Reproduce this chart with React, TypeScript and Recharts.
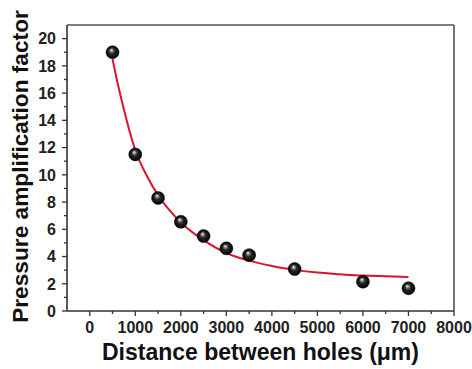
import React from 'react';
import { ComposedChart, Line, Scatter, XAxis, YAxis, ReferenceLine, Label } from 'recharts';

// Measured points
const distance = [500, 1000, 1500, 2000, 2500, 3000, 3500, 4500, 6000, 7000];
const factor = [19.0, 11.5, 8.3, 6.55, 5.5, 4.6, 4.1, 3.08, 2.15, 1.67];

// Fitted curve
const fitDistance = [500, 600, 750, 900, 1000, 1250, 1500, 1750, 2000, 2500, 3000, 3500, 4000, 4500, 5000, 5500, 6000, 6500, 7000];
const fitFactor = [18.5, 16.9, 14.8, 12.9, 11.8, 9.95, 8.5, 7.4, 6.5, 5.2, 4.25, 3.7, 3.3, 3.02, 2.82, 2.7, 2.6, 2.55, 2.5];

// Tick values
const xTicks = [0, 500, 1000, 1500, 2000, 2500, 3000, 3500, 4000, 4500, 5000, 5500, 6000, 6500, 7000, 7500, 8000];
const yTicks = [0, 1, 2, 3, 4, 5, 6, 7, 8, 9, 10, 11, 12, 13, 14, 15, 16, 17, 18, 19, 20];

const xTitle = 'Distance between holes (\u03bcm)';
const yTitle = 'Pressure amplification factor';

const pointData = distance.map((x, i) => ({ x, y: factor[i] }));
const fitData = fitDistance.map((x, i) => ({ x, fit: fitFactor[i] }));

const AXIS = '#333333';
const FRAME = '#555555';
const RED = '#d8152b';
const FONT = '"Liberation Sans", Arial, Helvetica, sans-serif';

const XTick = (props: any) => {
  const { x, y, payload } = props;
  const v = payload.value;
  const major = v % 1000 === 0;
  return (
    <g>
      <line x1={x} x2={x} y1={y} y2={y + (major ? 5 : 3)} stroke={AXIS} strokeWidth={1.3} />
      {major && (
        <text x={x} y={y + 22.3} textAnchor="middle" fontSize={16} fontWeight="bold" fill="#222" fontFamily={FONT}>
          {v}
        </text>
      )}
    </g>
  );
};

const YTick = (props: any) => {
  const { x, y, payload } = props;
  const v = payload.value;
  const major = v % 2 === 0;
  return (
    <g>
      <line x1={x} x2={x - (major ? 5 : 3)} y1={y} y2={y} stroke={AXIS} strokeWidth={1.3} />
      {major && (
        <text x={x - 11} y={y + 5.8} textAnchor="end" fontSize={16} fontWeight="bold" fill="#222" fontFamily={FONT}>
          {v}
        </text>
      )}
    </g>
  );
};

const Ball = (props: any) => {
  const { cx, cy } = props;
  if (cx == null || cy == null) return null;
  return <circle cx={cx} cy={cy} r={6.5} fill="url(#ballGrad)" stroke="#000" strokeWidth={0.5} />;
};

export default function App() {
  return (
    <div style={{ position: 'absolute', left: 0, top: 0, width: 472, height: 369, background: '#fff' }}>
      <svg width={0} height={0} style={{ position: 'absolute' }}>
        <defs>
          <radialGradient id="ballGrad" cx="50%" cy="50%" r="50%" fx="40%" fy="32%">
            <stop offset="0%" stopColor="#ffffff" />
            <stop offset="18%" stopColor="#9a9a9a" />
            <stop offset="45%" stopColor="#2a2a2a" />
            <stop offset="100%" stopColor="#000000" />
          </radialGradient>
        </defs>
      </svg>
      <ComposedChart
        width={472}
        height={369}
        margin={{ top: 25, right: 18, left: 0, bottom: 0 }}
        style={{ fontFamily: FONT }}
      >
        <XAxis
          type="number"
          dataKey="x"
          domain={[-500, 8000]}
          ticks={xTicks}
          interval={0}
          allowDataOverflow
          height={58}
          tickSize={0}
          tickMargin={0}
          tickLine={false}
          tick={<XTick />}
          axisLine={{ stroke: AXIS, strokeWidth: 1.6 }}
        >
          <Label
            content={() => (
              <text x={260.5} y={360} textAnchor="middle" fontSize={23} fontWeight="bold" fill="#111" fontFamily={FONT}>
                {xTitle}
              </text>
            )}
          />
        </XAxis>
        <YAxis
          type="number"
          domain={[0, 21]}
          ticks={yTicks}
          interval={0}
          allowDataOverflow
          width={67}
          tickSize={0}
          tickMargin={0}
          tickLine={false}
          tick={<YTick />}
          axisLine={{ stroke: AXIS, strokeWidth: 1.6 }}
        >
          <Label
            content={() => (
              <text
                x={28}
                y={166.5}
                transform="rotate(-90, 28, 166.5)"
                textAnchor="middle"
                fontSize={22.7}
                fontWeight="bold"
                fill="#111"
                fontFamily={FONT}
              >
                {yTitle}
              </text>
            )}
          />
        </YAxis>
        <ReferenceLine y={21} stroke={FRAME} strokeWidth={1.6} ifOverflow="visible" />
        <ReferenceLine x={8000} stroke={FRAME} strokeWidth={1.6} ifOverflow="visible" />
        <Line
          data={fitData}
          dataKey="fit"
          type="monotone"
          stroke={RED}
          strokeWidth={2}
          dot={false}
          activeDot={false}
          isAnimationActive={false}
        />
        <Scatter data={pointData} dataKey="y" shape={<Ball />} isAnimationActive={false} />
      </ComposedChart>
    </div>
  );
}
